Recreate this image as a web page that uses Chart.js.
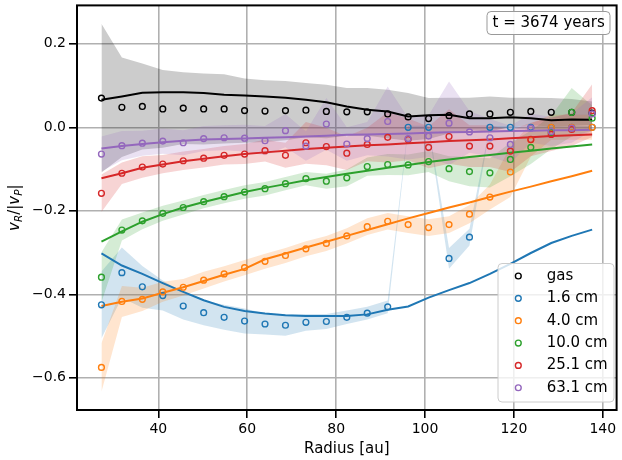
<!DOCTYPE html>
<html>
<head>
<meta charset="utf-8">
<script src="https://cdn.jsdelivr.net/npm/chart.js@4.4.1/dist/chart.umd.min.js"></script>
<style>
  html, body { margin: 0; padding: 0; background: #fff; }
</style>
</head>
<body>
<canvas id="chart" width="622" height="460"></canvas>
<script>
var radius = [27.2, 31.8, 36.4, 41.0, 45.6, 50.2, 54.8, 59.4, 64.0, 68.6, 73.2, 77.8, 82.4,
  87.0, 91.6, 96.2, 100.8, 105.4, 110.0, 114.6, 119.2, 123.8, 128.4, 133.0, 137.6]
var seriesLabels = ['gas', '1.6 cm', '4.0 cm', '10.0 cm', '25.1 cm', '63.1 cm']
var seriesColors = ['#000000', '#1f77b4', '#ff7f0e', '#2ca02c', '#d62728', '#9467bd']
var bandColors = ['rgba(0,0,0,0.2)', 'rgba(31,119,180,0.2)', 'rgba(255,127,14,0.2)',
  'rgba(44,160,44,0.2)', 'rgba(214,39,40,0.2)', 'rgba(148,103,189,0.2)']
var xTicks = [40, 60, 80, 100, 120, 140]
var yTicks = [-0.6, -0.4, -0.2, 0.0, 0.2]
var timeLabel = 't = 3674 years'

// gas
var gasVal = [0.070, 0.048, 0.050, 0.044, 0.046, 0.044, 0.044, 0.040, 0.039, 0.040, 0.041, 0.038, 0.037,
  0.037, 0.032, 0.025, 0.021, 0.028, 0.032, 0.032, 0.036, 0.038, 0.036, 0.036, 0.034]
var gasFit = [0.066, 0.074, 0.083, 0.084, 0.084, 0.082, 0.078, 0.076, 0.074, 0.071, 0.066, 0.060, 0.050,
  0.042, 0.038, 0.026, 0.029, 0.030, 0.022, 0.022, 0.024, 0.022, 0.017, 0.019, 0.018]
var gasErr = [0.178, 0.119, 0.103, 0.093, 0.086, 0.085, 0.083, 0.077, 0.074, 0.071, 0.065, 0.064, 0.057,
  0.057, 0.058, 0.057, 0.049, 0.043, 0.039, 0.042, 0.035, 0.033, 0.034, 0.032, 0.028]
// 1.6 cm
var cm16Val = [-0.425, -0.348, -0.382, -0.403, -0.428, -0.444, -0.455, -0.464, -0.471, -0.474, -0.467, -0.465, -0.455,
  -0.445, -0.430, 0.000, 0.000, -0.314, -0.263, 0.000, 0.000, 0.000, 0.000, 0.000, 0.000]
var cm16Fit = [-0.302, -0.331, -0.351, -0.373, -0.394, -0.414, -0.430, -0.440, -0.446, -0.450, -0.452, -0.452, -0.452,
  -0.448, -0.437, -0.429, -0.408, -0.390, -0.373, -0.351, -0.327, -0.301, -0.277, -0.260, -0.245]
var cm16Err = [0.080, 0.060, 0.050, 0.036, 0.032, 0.030, 0.030, 0.030, 0.025, 0.025, 0.020, 0.018, 0.016,
  0.015, 0.015, 0.004, 0.004, 0.025, 0.020, 0.003, 0.003, 0.003, 0.003, 0.003, 0.003]
// 4.0 cm
var cm40Val = [-0.575, -0.417, -0.412, -0.394, -0.383, -0.366, -0.351, -0.336, -0.321, -0.307, -0.291, -0.278, -0.260,
  -0.238, -0.225, -0.233, -0.240, -0.233, -0.208, -0.167, -0.107, -0.030, 0.000, 0.000, 0.000]
var cm40Fit = [-0.428, -0.418, -0.410, -0.396, -0.383, -0.368, -0.353, -0.339, -0.316, -0.302, -0.288, -0.274, -0.260,
  -0.246, -0.232, -0.218, -0.205, -0.192, -0.180, -0.167, -0.154, -0.142, -0.129, -0.117, -0.104]
var cm40Err = [0.058, 0.037, 0.028, 0.024, 0.020, 0.020, 0.018, 0.018, 0.018, 0.018, 0.018, 0.018, 0.018,
  0.020, 0.020, 0.020, 0.020, 0.020, 0.022, 0.030, 0.060, 0.040, 0.030, 0.030, 0.030]
// 10.0 cm
var cm100Val = [-0.359, -0.246, -0.224, -0.206, -0.192, -0.178, -0.166, -0.155, -0.147, -0.135, -0.123, -0.129, -0.121,
  -0.094, -0.089, -0.090, -0.082, -0.099, -0.106, -0.109, -0.077, -0.048, -0.012, 0.036, 0.022]
var cm100Fit = [-0.274, -0.249, -0.226, -0.208, -0.192, -0.179, -0.167, -0.155, -0.145, -0.136, -0.127, -0.119, -0.111,
  -0.104, -0.097, -0.090, -0.083, -0.077, -0.071, -0.066, -0.061, -0.056, -0.051, -0.046, -0.041]
var cm100Err = [0.060, 0.025, 0.020, 0.018, 0.017, 0.016, 0.016, 0.016, 0.016, 0.016, 0.016, 0.018, 0.020,
  0.022, 0.025, 0.025, 0.025, 0.030, 0.035, 0.035, 0.040, 0.040, 0.040, 0.058, 0.030]
// 25.1 cm
var cm251Val = [-0.158, -0.110, -0.095, -0.088, -0.080, -0.074, -0.067, -0.064, -0.056, -0.067, -0.037, -0.046, -0.062,
  -0.041, -0.024, -0.029, -0.048, -0.022, -0.045, -0.045, -0.057, -0.029, -0.017, -0.005, 0.040]
var cm251Fit = [-0.122, -0.110, -0.097, -0.089, -0.081, -0.075, -0.069, -0.064, -0.060, -0.056, -0.052, -0.049, -0.046,
  -0.043, -0.041, -0.038, -0.036, -0.033, -0.031, -0.029, -0.026, -0.024, -0.021, -0.019, -0.017]
var cm251Err = [0.045, 0.026, 0.026, 0.022, 0.022, 0.022, 0.022, 0.024, 0.026, 0.030, 0.050, 0.045, 0.040,
  0.040, 0.060, 0.050, 0.050, 0.065, 0.050, 0.050, 0.050, 0.040, 0.040, 0.040, 0.063]
// 63.1 cm
var cm631Val = [-0.064, -0.044, -0.038, -0.033, -0.037, -0.027, -0.025, -0.026, -0.032, -0.008, -0.045, 0.008, -0.040,
  -0.027, 0.014, -0.027, -0.021, 0.010, -0.011, -0.025, -0.041, -0.002, -0.010, -0.002, 0.032]
var cm631Fit = [-0.051, -0.045, -0.040, -0.036, -0.032, -0.029, -0.028, -0.027, -0.025, -0.024, -0.022, -0.020, -0.018,
  -0.017, -0.016, -0.015, -0.013, -0.012, -0.011, -0.010, -0.009, -0.008, -0.007, -0.007, -0.006]
var cm631Err = [0.042, 0.035, 0.030, 0.030, 0.030, 0.030, 0.030, 0.032, 0.035, 0.040, 0.035, 0.062, 0.040,
  0.040, 0.084, 0.050, 0.050, 0.100, 0.050, 0.045, 0.045, 0.035, 0.035, 0.035, 0.040]

var allVal = [gasVal, cm16Val, cm40Val, cm100Val, cm251Val, cm631Val]
var allFit = [gasFit, cm16Fit, cm40Fit, cm100Fit, cm251Fit, cm631Fit]
var allErr = [gasErr, cm16Err, cm40Err, cm100Err, cm251Err, cm631Err]

var FONT = '"DejaVu Sans", sans-serif'
Chart.defaults.font.family = FONT
Chart.defaults.font.size = 14
Chart.defaults.color = '#000'

function pts(ys, sign, err) {
  return radius.map(function (x, i) {
    var y = ys[i]
    if (err) y = y + sign * err[i]
    return { x: x, y: y }
  })
}

// drawn bottom-to-top: all bands, then model lines, then markers
var datasets = []
var order = 1000
for (var s = 0; s < 6; s++) {
  datasets.push({
    data: pts(allVal[s], 1, allErr[s]), showLine: true, pointRadius: 0, borderWidth: 0,
    borderColor: 'rgba(0,0,0,0)', backgroundColor: bandColors[s], fill: '+1', order: order--
  })
  datasets.push({
    data: pts(allVal[s], -1, allErr[s]), showLine: true, pointRadius: 0, borderWidth: 0,
    borderColor: 'rgba(0,0,0,0)', fill: false, order: order--
  })
}
for (var s = 0; s < 6; s++) {
  datasets.push({
    data: pts(allFit[s]), showLine: true, pointRadius: 0, borderWidth: 2,
    borderColor: seriesColors[s], fill: false, order: order--
  })
}
for (var s = 0; s < 6; s++) {
  datasets.push({
    label: seriesLabels[s], data: pts(allVal[s]), showLine: false, pointRadius: 2.9,
    pointBorderWidth: 1.4, pointBorderColor: seriesColors[s],
    pointBackgroundColor: 'rgba(0,0,0,0)', order: order--
  })
}

function roundRect(ctx, x, y, w, h, r) {
  ctx.beginPath()
  ctx.moveTo(x + r, y)
  ctx.lineTo(x + w - r, y)
  ctx.arcTo(x + w, y, x + w, y + r, r)
  ctx.lineTo(x + w, y + h - r)
  ctx.arcTo(x + w, y + h, x + w - r, y + h, r)
  ctx.lineTo(x + r, y + h)
  ctx.arcTo(x, y + h, x, y + h - r, r)
  ctx.lineTo(x, y + r)
  ctx.arcTo(x, y, x + r, y, r)
  ctx.closePath()
}

var decorPlugin = {
  id: 'decor',
  afterDraw: function (chart) {
    var ctx = chart.ctx
    var a = chart.chartArea
    ctx.save()
    // spines
    ctx.strokeStyle = '#000'
    ctx.lineWidth = 2
    ctx.strokeRect(a.left, a.top, a.right - a.left, a.bottom - a.top)

    // y label  v_R/|v_P|
    var parts = [
      { t: 'v', f: 'italic 15px ' + FONT, dy: 0 },
      { t: 'R', f: 'italic 10.5px ' + FONT, dy: 3 },
      { t: '/|', f: '15px ' + FONT, dy: 0 },
      { t: 'v', f: 'italic 15px ' + FONT, dy: 0 },
      { t: 'P', f: 'italic 10.5px ' + FONT, dy: 3 },
      { t: '|', f: '15px ' + FONT, dy: 0 }
    ]
    var total = 0
    parts.forEach(function (p) { ctx.font = p.f; p.w = ctx.measureText(p.t).width; total += p.w })
    ctx.save()
    ctx.translate(19, (a.top + a.bottom) / 2)
    ctx.rotate(-Math.PI / 2)
    ctx.fillStyle = '#000'
    ctx.textBaseline = 'alphabetic'
    var px = -total / 2
    parts.forEach(function (p) { ctx.font = p.f; ctx.fillText(p.t, px, p.dy); px += p.w })
    ctx.restore()

    // time box
    roundRect(ctx, 487, 11.5, 123, 23, 4)
    ctx.fillStyle = 'rgba(255,255,255,0.9)'
    ctx.fill()
    ctx.strokeStyle = '#999'
    ctx.lineWidth = 1
    ctx.stroke()
    ctx.fillStyle = '#000'
    ctx.font = '15px ' + FONT
    ctx.textBaseline = 'middle'
    ctx.textAlign = 'left'
    ctx.fillText(timeLabel, 492.5, 23)

    // legend
    roundRect(ctx, 498, 263.5, 116, 138.5, 4)
    ctx.fillStyle = 'rgba(255,255,255,0.8)'
    ctx.fill()
    ctx.strokeStyle = '#cccccc'
    ctx.stroke()
    for (var k = 0; k < seriesLabels.length; k++) {
      var ly = 276 + k * 22.35
      ctx.beginPath()
      ctx.arc(518.3, ly, 2.9, 0, Math.PI * 2)
      ctx.strokeStyle = seriesColors[k]
      ctx.lineWidth = 1.4
      ctx.stroke()
      ctx.fillStyle = '#000'
      ctx.fillText(seriesLabels[k], 546.7, ly)
    }
    ctx.restore()
  }
}

function fmt(v) {
  var s = Math.abs(v).toFixed(1)
  return v < -1e-9 ? '\u2212' + s : s
}

new Chart(document.getElementById('chart').getContext('2d'), {
  type: 'scatter',
  data: { datasets: datasets },
  options: {
    responsive: false,
    animation: false,
    events: [],
    devicePixelRatio: 1,
    layout: { padding: { top: 4, right: 2, left: 0, bottom: 0 } },
    plugins: { legend: { display: false }, tooltip: { enabled: false } },
    scales: {
      x: {
        type: 'linear', min: 21.7, max: 143.1,
        afterBuildTicks: function (sc) { sc.ticks = xTicks.map(function (v) { return { value: v } }) },
        afterFit: function (sc) { sc.height = 50; sc.paddingLeft = 0; sc.paddingRight = 0 },
        ticks: { autoSkip: false, maxRotation: 0, padding: 3, color: '#000', font: { size: 14 } },
        grid: { color: '#b0b0b0', lineWidth: 1.6, tickLength: 8, tickColor: '#000', tickWidth: 1.6 },
        border: { display: false },
        title: { display: true, text: 'Radius [au]', color: '#000', font: { size: 15 }, padding: { top: 0, bottom: 2 } }
      },
      y: {
        type: 'linear', min: -0.677, max: 0.292,
        afterBuildTicks: function (sc) { sc.ticks = yTicks.map(function (v) { return { value: v } }) },
        afterFit: function (sc) { sc.width = 77; sc.paddingTop = 0; sc.paddingBottom = 0 },
        ticks: { autoSkip: false, padding: 3, color: '#000', font: { size: 14 }, callback: fmt },
        grid: { color: '#b0b0b0', lineWidth: 1.6, tickLength: 8, tickColor: '#000', tickWidth: 1.6 },
        border: { display: false }
      }
    }
  },
  plugins: [decorPlugin]
})
</script>
</body>
</html>
